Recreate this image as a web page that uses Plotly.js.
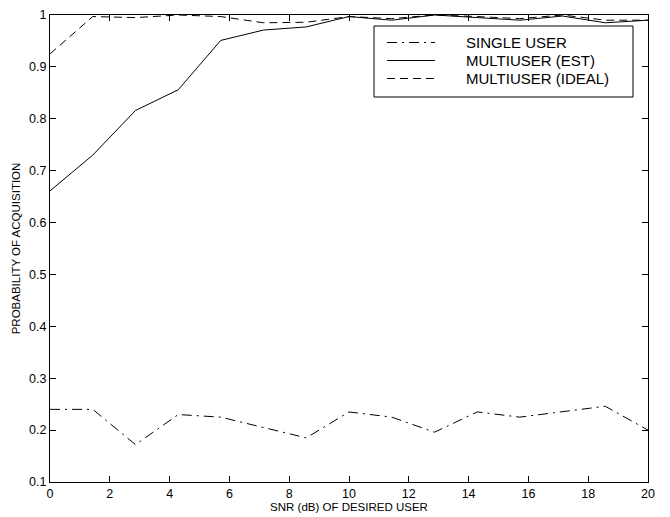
<!DOCTYPE html>
<html>
<head>
<meta charset="utf-8">
<script src="https://cdn.plot.ly/plotly-3.0.1.min.js"></script>
<style>html,body{margin:0;padding:0;background:#fff;}#chart{width:670px;height:517px;}</style>
</head>
<body>
<div id="chart"></div>
<script>
const snr = [0, 1.43, 2.86, 4.29, 5.71, 7.14, 8.57, 10, 11.43, 12.86, 14.29, 15.71, 17.14, 18.57, 20];
const singleUser = [0.24, 0.24, 0.172, 0.23, 0.225, 0.205, 0.185, 0.235, 0.225, 0.196, 0.235, 0.225, 0.235, 0.246, 0.2];
const multiEst = [0.661, 0.73, 0.816, 0.856, 0.951, 0.971, 0.977, 0.997, 0.99, 1.0, 0.995, 0.99, 0.998, 0.985, 0.99];
const multiIdeal = [0.925, 0.997, 0.995, 1.0, 0.997, 0.985, 0.986, 0.997, 0.993, 1.0, 0.997, 0.993, 1.0, 0.99, 0.99];
const seriesNames = ["SINGLE USER", "MULTIUSER (EST)", "MULTIUSER (IDEAL)"];
const dashes = ["10px,5px,2px,5px", "solid", "8px,5px"];

const font = "Liberation Sans, Arial, sans-serif";
const traces = [singleUser, multiEst, multiIdeal].map((ys, i) => ({
  x: snr, y: ys, type: "scatter", mode: "lines", name: seriesNames[i],
  line: {color: "#000", width: 1, dash: dashes[i]}, showlegend: false
}));

// legend drawn in paper coordinates
const L = {x0: 374, x1: 633, y0: 26, y1: 97};
const plotL = 50, plotR = 648, plotT = 15, plotB = 482;
const px = v => (v - plotL) / (plotR - plotL);
const py = v => (plotB - v) / (plotB - plotT);
const rows = [42.5, 60.5, 78.5];
const shapes = [{type: "rect", xref: "paper", yref: "paper", x0: px(L.x0), x1: px(L.x1), y0: py(L.y1), y1: py(L.y0),
  line: {color: "#000", width: 1}, fillcolor: "#fff", layer: "above"}];
const annotations = [];
rows.forEach((r, i) => {
  shapes.push({type: "line", xref: "paper", yref: "paper", x0: px(387), x1: px(435), y0: py(r), y1: py(r),
    line: {color: "#000", width: 1, dash: dashes[i]}, layer: "above"});
  annotations.push({xref: "paper", yref: "paper", x: px(465), y: py(r), xanchor: "left", yanchor: "middle",
    text: seriesNames[i], showarrow: false, borderpad: 0,
    font: {family: font, size: 15, color: "#000"}});
});

const axisCommon = {
  showgrid: false, zeroline: false, showline: true, linecolor: "#000", linewidth: 1,
  mirror: "ticks", ticks: "inside", ticklen: 6, tickcolor: "#000", tickwidth: 1,
  tickfont: {family: font, size: 12.5, color: "#000"}
};
const layout = {
  width: 670, height: 517,
  margin: {l: plotL, r: 670 - plotR, t: plotT, b: 517 - plotB},
  paper_bgcolor: "#fff", plot_bgcolor: "#fff",
  xaxis: Object.assign({}, axisCommon, {range: [0, 20], dtick: 2, tick0: 0,
    title: {text: "SNR (dB) OF DESIRED USER", font: {family: font, size: 11.5, color: "#000"}, standoff: 2}}),
  yaxis: Object.assign({}, axisCommon, {range: [0.1, 1], dtick: 0.1, tick0: 0.1,
    title: {text: "PROBABILITY OF ACQUISITION", font: {family: font, size: 11.5, color: "#000"}, standoff: 6}}),
  shapes: shapes, annotations: annotations, showlegend: false
};
Plotly.newPlot("chart", traces, layout, {displayModeBar: false, staticPlot: true});
</script>
</body>
</html>
